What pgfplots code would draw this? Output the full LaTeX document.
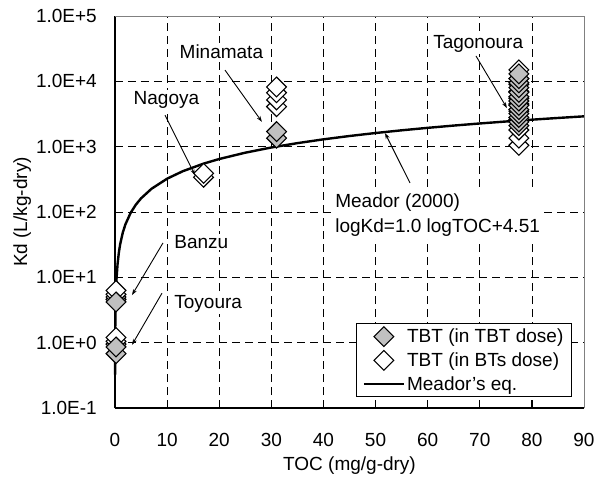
\documentclass[border=0pt]{standalone}
\usepackage{fontspec}
\setmainfont{Liberation Sans}
\usepackage{pgfplots}
\pgfplotsset{compat=1.18}
\usetikzlibrary{arrows.meta}

\definecolor{tbtgray}{RGB}{192,192,192}
\definecolor{framegray}{RGB}{128,128,128}

% Meador (2000): log Kd = 1.0 log TOC + 4.51, TOC in mg/g-dry
\pgfplotstableread{
toc kd
0.01 0.3236
0.02 0.6472
0.05 1.618
0.1 3.236
0.2 6.472
0.3 9.708
0.5 16.18
0.75 24.27
1 32.36
1.5 48.54
2 64.72
3 97.08
4 129.4
5 161.8
7 226.5
10 323.6
13 420.7
17 550.1
20 647.2
25 809.0
30 970.8
35 1132.6
40 1294.4
45 1456.2
50 1618.0
55 1779.7
60 1941.5
65 2103.3
70 2265.1
75 2426.9
80 2588.7
85 2750.5
90 2912.3
}\meador

% TBT measured in TBT-dosed experiments
\pgfplotstableread{
toc kd
0.2 0.68
0.2 0.86
0.2 4.2
31.0 1350
31.0 1700
77.5 2100
77.5 2400
77.5 2800
77.5 3200
77.5 3700
77.5 4300
77.5 5000
77.5 5800
77.5 6800
77.5 8000
77.5 9500
77.5 11000
77.5 13000
}\tbtdose

% TBT measured in BTs-dosed experiments
\pgfplotstableread{
toc kd
0.2 0.95
0.2 1.05
0.2 1.2
0.2 4.6
0.2 5.0
0.2 5.5
0.2 6.3
17.0 340
17.0 390
31.0 4100
31.0 5200
31.0 6700
31.0 8200
77.5 1050
77.5 1350
77.5 1800
77.5 2600
77.5 3500
77.5 4500
77.5 5500
77.5 7000
77.5 9000
77.5 11000
77.5 15000
}\btsdose

\tikzset{
  tbtmark/.style={mark=square*, mark size=7pt,
    mark options={rotate=45, fill=tbtgray, draw=black, line width=1.1pt}},
  btsmark/.style={mark=square*, mark size=7pt,
    mark options={rotate=45, fill=white, draw=black, line width=1.1pt}},
  callout/.style={-{Stealth[length=6pt,width=4pt]}, line width=0.9pt, black},
  place/.style={fill=white, inner sep=1.5pt},
}

\begin{document}
\begin{tikzpicture}[font=\fontsize{19}{23}\selectfont]
\begin{axis}[
  scale only axis,
  width=469pt, height=392pt,
  xmin=0, xmax=90,
  ymode=log, ymin=0.1, ymax=1e5,
  axis lines=left,
  axis line style={-, black, line width=1.1pt},
  tick align=inside,
  major tick length=8pt,
  tick style={black, line width=0.9pt},
  xtick={0,10,...,90},
  ytick={0.1,1,10,100,1000,10000,100000},
  yticklabels={1.0E-1,1.0E+0,1.0E+1,1.0E+2,1.0E+3,1.0E+4,1.0E+5},
  yminorticks=false,
  /pgf/number format/assume math mode=true,
  xticklabel style={anchor=center, yshift=-32pt},
  yticklabel style={anchor=east, inner xsep=0pt, xshift=-18pt},
  grid=major,
  major grid style={black, line width=0.7pt, dash pattern=on 8pt off 5pt},
  xlabel={TOC (mg/g-dry)},
  ylabel={Kd (L/kg-dry)},
  xlabel style={at={(axis description cs:0.5,0)}, anchor=center, yshift=-58pt},
  ylabel style={at={(axis description cs:-0.198,0.5)}, anchor=center},
  clip=false,
  legend cell align=left,
  legend image code/.code={\draw[mark repeat=2,mark phase=2,#1] plot coordinates {(0pt,0pt) (20pt,0pt) (40pt,0pt)};},
  legend style={at={(rel axis cs:0.974,0.028)}, anchor=south east,
    draw=black, line width=0.9pt, inner xsep=6pt, inner ysep=3pt,
    row sep=4pt, nodes={inner sep=2pt}},
  after end axis/.code={
    \draw[framegray, line width=0.9pt] (rel axis cs:0,1) -- (rel axis cs:1,1) -- (rel axis cs:1,0);
    \coordinate (pSW) at (rel axis cs:0,0);
    \coordinate (pNE) at (rel axis cs:1,1);
  },
]
\addlegendimage{only marks, tbtmark}
\addlegendentry{TBT (in TBT dose)}
\addlegendimage{only marks, btsmark}
\addlegendentry{TBT (in BTs dose)}
\addlegendimage{black, line width=2.4pt, mark=none}
\addlegendentry{Meador's eq.}

\addplot[black, line width=2.4pt, mark=none, forget plot] table[x=toc, y=kd] {\meador};
\addplot[only marks, btsmark, forget plot] table[x=toc, y=kd] {\btsdose};
\addplot[only marks, tbtmark, forget plot] table[x=toc, y=kd] {\tbtdose};

% site labels with callout arrows
\node[place, anchor=base west] at (rel axis cs:0.1343,0.892) {Minamata};
\node[place, anchor=base west] at (rel axis cs:0.0362,0.773) {Nagoya};
\node[place, anchor=base west] at (rel axis cs:0.675,0.9176) {Tagonoura};
\node[place, anchor=base west] at (rel axis cs:0.123,0.4074) {Banzu};
\node[place, anchor=base west] at (rel axis cs:0.123,0.2543) {Toyoura};
\node[place, anchor=north west, align=left, inner sep=3pt]
  at (rel axis cs:0.463,0.556) {Meador (2000)\\[2pt]logKd=1.0 logTOC+4.51};

\draw[callout] (rel axis cs:0.1066,0.747) -- (rel axis cs:0.1706,0.594);
\draw[callout] (rel axis cs:0.2345,0.862) -- (rel axis cs:0.3134,0.730);
\draw[callout] (rel axis cs:0.7697,0.898) -- (rel axis cs:0.8358,0.765);
\draw[callout] (rel axis cs:0.629,0.574) -- (rel axis cs:0.5757,0.7015);
\draw[callout] (rel axis cs:0.1023,0.421) -- (rel axis cs:0.0362,0.288);
\draw[callout] (rel axis cs:0.1002,0.293) -- (rel axis cs:0.0362,0.161);
\end{axis}
\pgfresetboundingbox
\path ([shift={(-115pt,-71pt)}]pSW) rectangle ([shift={(12pt,16pt)}]pNE);
\end{tikzpicture}
\end{document}
